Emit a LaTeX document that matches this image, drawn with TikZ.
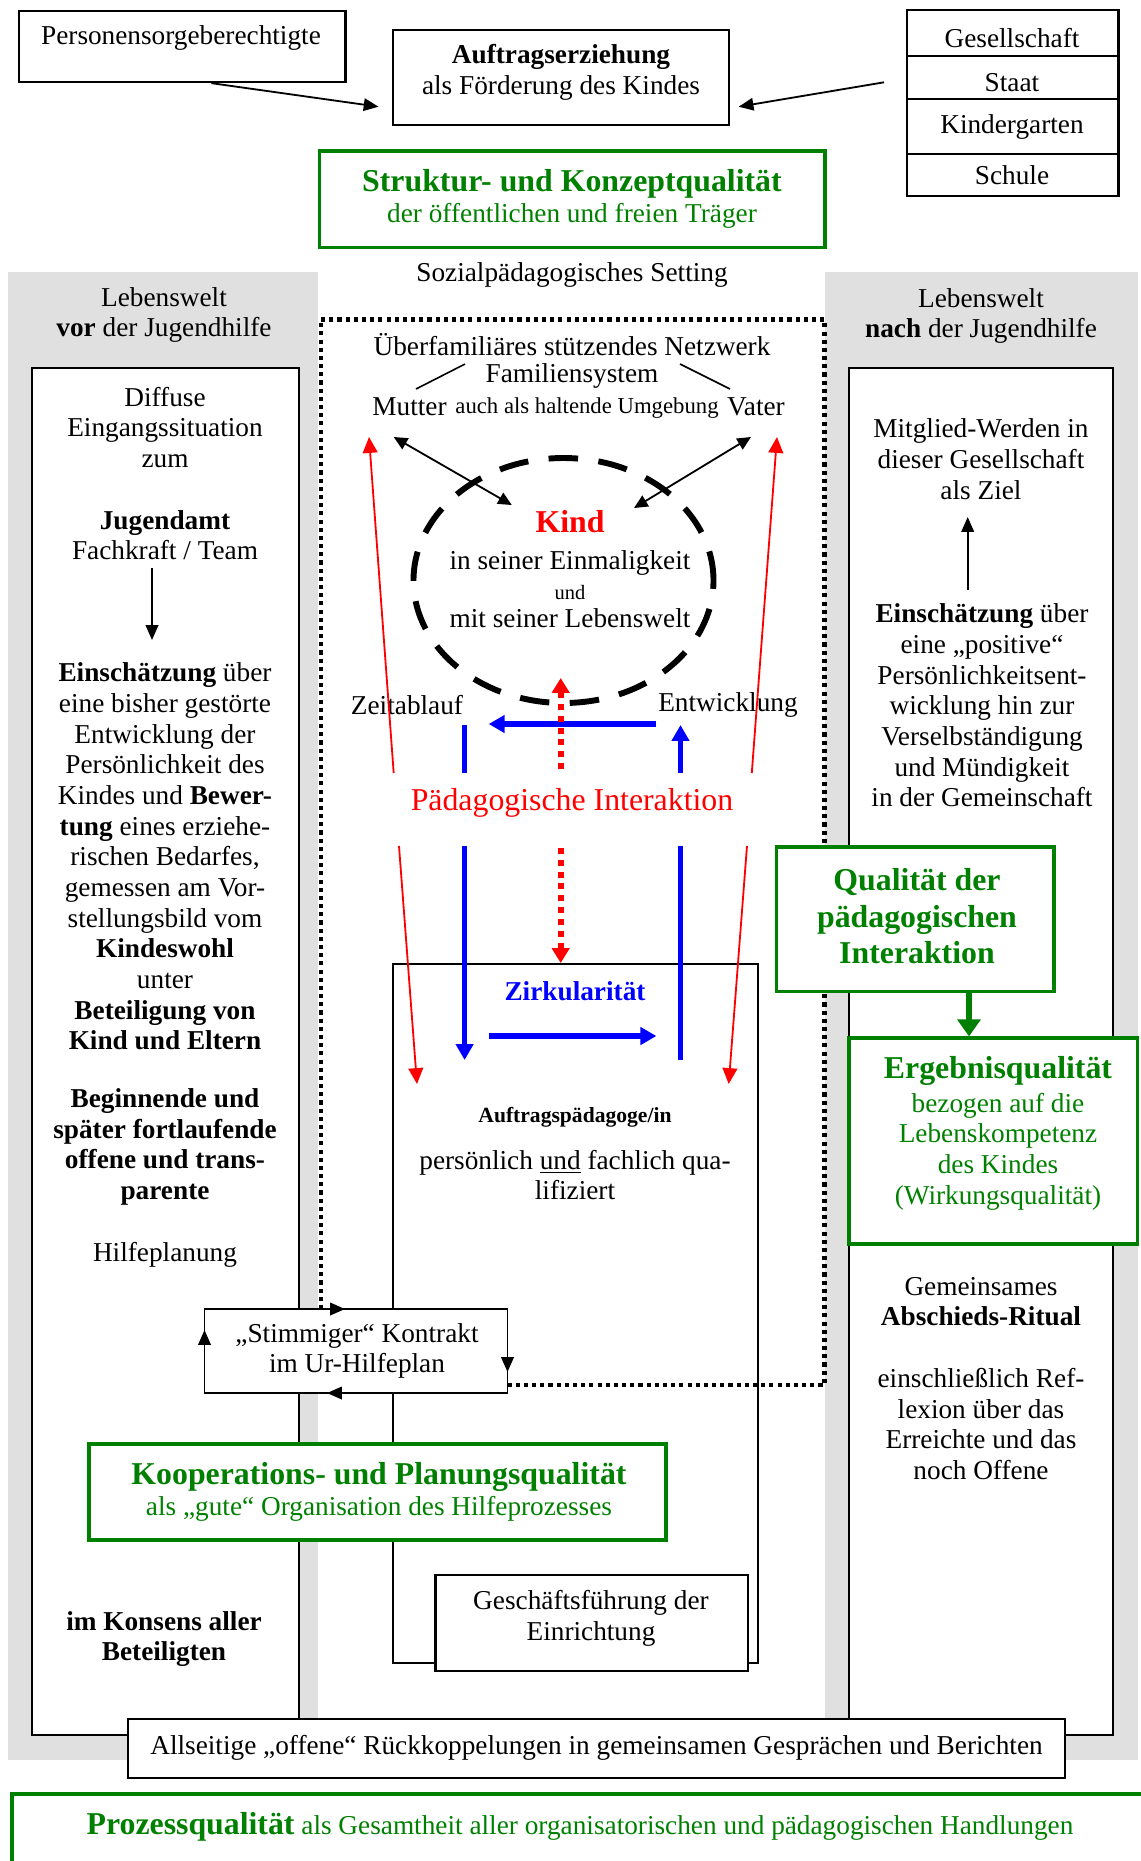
\documentclass[tikz,border=0pt]{standalone}
\usepackage{fontspec}
\setmainfont{Liberation Serif}
\usepackage{xcolor}
\usetikzlibrary{arrows.meta}
\usetikzlibrary{shapes.geometric}
\usetikzlibrary{fit}
\definecolor{gruen}{RGB}{0,128,0}
\definecolor{hellgrau}{RGB}{224,224,224}

\begin{document}
\begin{tikzpicture}[x=0.44pt,y=-0.44pt,
	every node/.style={font=\fontsize{12}{13.5}\selectfont,align=center,inner sep=0pt},
	fett/.style={font=\fontsize{12}{13.5}\selectfont\bfseries},
	gross/.style={font=\fontsize{14}{16.1}\selectfont\bfseries},
	klein/.style={font=\fontsize{10}{11.5}\selectfont},
	kasten/.style={draw,line width=1pt,fill=white,inner sep=0pt},
	duenn/.style={draw,line width=0.7pt,fill=white,inner sep=0pt},
	gruenkasten/.style={draw=gruen,line width=1.4pt,fill=white,inner sep=0pt},
	spitze/.style={-{Triangle[length=6.5pt,width=5.5pt]},line width=0.8pt},
	doppelspitze/.style={{Triangle[length=6pt,width=5.5pt]}-{Triangle[length=6pt,width=5.5pt]},line width=0.8pt},
	rotspitze/.style={-{Triangle[length=7pt,width=6.5pt]},red,line width=0.8pt},
	blaustrich/.style={blue,line width=2.3pt},
	blauspitze/.style={blaustrich,-{Triangle[length=7pt,width=7.5pt]}},
	rotpunkte/.style={red,line width=2.6pt,dash pattern=on 2.6pt off 2.6pt,-{Triangle[length=6.5pt,width=7.5pt]}},
	rahmen/.style={line width=1.8pt,dash pattern=on 1.8pt off 1.8pt},
	kreis/.style={draw,ellipse,line width=2.6pt,dash pattern=on 13pt off 9pt,inner sep=0pt},
	gruenspitze/.style={gruen,line width=3pt,-{Triangle[length=7.5pt,width=10pt]}}]

	\path[use as bounding box] (0,0) rectangle (1141,1861);
	\clip (0,0) rectangle (1141,1861);

	% Lebenswelten
	\fill[hellgrau] (8,272) rectangle (318,1760);
	\fill[hellgrau] (825,272) rectangle (1137.5,1760);

	% oben
	\node[kasten,fit={(19,11)(345.5,82)}] (personen) {};
	\node (personentext) at (181,38) {Personensorgeberechtigte};
	\node[kasten,fit={(393,30)(729,125)}] (auftrag) {};
	\node (auftragtext) at (561,72) {\textbf{Auftragserziehung}\\als Förderung des Kindes};
	\node[kasten,line width=1.2pt,fit={(907,10)(1118.5,56)}] (gesellschaft) {};
	\node[kasten,line width=1.2pt,fit={(907,56)(1118.5,99)}] (staat) {};
	\node[kasten,line width=1.2pt,fit={(907,99)(1118.5,154)}] (kindergarten) {};
	\node[kasten,line width=1.2pt,fit={(907,154)(1118.5,196)}] (schule) {};
	\node (gesellschafttext) at (1012,38) {Gesellschaft};
	\node (staattext) at (1012,83) {Staat};
	\node (kindergartentext) at (1012,127) {Kindergarten};
	\node (schuletext) at (1012,175) {Schule};
	\coordinate (auftraglinks) at (378.5,106.7);
	\coordinate (auftragrechts) at (738.7,106.7);
	\coordinate (stapelpfeil) at (884,82.3);
	\draw[spitze] ([xshift=12.8pt]personen.south) -- (auftraglinks);
	\draw[spitze] (stapelpfeil) -- (auftragrechts);

	\node[gruenkasten,line width=1.5pt,fit={(319.5,151)(825,247.5)}] (struktur) {};
	\node[text=gruen] (strukturtext) at (572,199) {\fontsize{14}{16}\selectfont\bfseries Struktur- und Konzeptqualität\\\fontsize{12}{14.5}\selectfont\mdseries der öffentlichen und freien Träger};
	\node (setting) at (572,275) {Sozialpädagogisches Setting};

	\node (vorher) at (164,315) {Lebenswelt\\\textbf{vor} der Jugendhilfe};
	\node (nachher) at (981,316) {Lebenswelt\\\textbf{nach} der Jugendhilfe};

	% linke Spalte
	\node[kasten,fit={(32,368)(299,1735)}] (links) {};
	\node (diffus) at (165,427.5) {Diffuse\\Eingangssituation\\zum};
	\node (jugendamt) at (165,535) {\textbf{Jugendamt}\\Fachkraft / Team};
	\node (einschaetzung) at (165,856.5) {\textbf{Einschätzung} über\\eine bisher gestörte\\Entwicklung der\\Persönlichkeit des\\Kindes und \textbf{Bewer-}\\\textbf{tung} eines erziehe-\\rischen Bedarfes,\\gemessen am Vor-\\stellungsbild vom\\\textbf{Kindeswohl}\\unter\\\textbf{Beteiligung von}\\\textbf{Kind und Eltern}};
	\node[fett] (beginnende) at (165,1147) {Beginnende und\\später fortlaufende\\offene und trans-\\parente};
	\node (hilfeplanung) at (165,1255) {Hilfeplanung};
	\node[fett] (konsens) at (164,1639) {im Konsens aller\\Beteiligten};
	\coordinate (jugendamtpfeil) at (152,568);
	\coordinate (einschaetzungpfeil) at (152,640);
	\draw[spitze] (jugendamtpfeil) -- (einschaetzungpfeil);

	% rechte Spalte
	\node[kasten,fit={(849,368)(1113,1735)}] (rechts) {};
	\node (mitglied) at (981,459) {Mitglied-Werden in\\dieser Gesellschaft\\als Ziel};
	\node (positiv) at (982,705.5) {\textbf{Einschätzung} über\\eine „positive“\\Persönlichkeitsent-\\wicklung hin zur\\Verselbständigung\\und Mündigkeit\\in der Gemeinschaft};
	\node (abschied) at (981,1301.5) {Gemeinsames\\\textbf{Abschieds-Ritual}};
	\node (reflexion) at (981,1424) {einschließlich Ref-\\lexion über das\\Erreichte und das\\noch Offene};
	\coordinate (positivpfeil) at (967.7,590);
	\coordinate (mitgliedpfeil) at (967.7,517);
	\draw[spitze] (positivpfeil) -- (mitgliedpfeil);

	% Setting
	\node[duenn,fit={(393,964)(758,1663)}] (paedagoge) {};
	\draw[rahmen] (507.5,1385) -- (824.5,1385) -- (824.5,319.5) -- (320.7,319.5) -- (320.7,1309);

	\node (netzwerk) at (572,345) {Überfamiliäres stützendes Netzwerk};
	\node (familie) at (572,376) {Familiensystem};
	\node (mutter) at (409.5,407) {Mutter};
	\node[klein] (umgebung) at (587,408) {auch als haltende Umgebung};
	\node (vater) at (756,407) {Vater};
	\draw[line width=0.7pt] (416,389) -- (465,364);
	\draw[line width=0.7pt] (680,364) -- (730,389);

	\node[kreis,minimum width=132pt,minimum height=107.8pt] (kindkreis) at (563.5,580.5) {};
	\node[gross,text=red] (kind) at (570,522) {Kind};
	\node (einmalig) at (570,563) {in seiner Einmaligkeit};
	\node[font=\fontsize{9}{10}\selectfont] (und) at (570,592) {und};
	\node (lebenswelt) at (570,618) {mit seiner Lebenswelt};
	\coordinate (mutterpfeil) at (393.7,437);
	\coordinate (kindlinks) at (511.8,505);
	\coordinate (vaterpfeil) at (751,437);
	\coordinate (kindrechts) at (634,508);
	\draw[doppelspitze] (mutterpfeil) -- (kindlinks);
	\draw[doppelspitze] (vaterpfeil) -- (kindrechts);

	\node (zeit) at (407,705) {Zeitablauf};
	\node (entwicklung) at (728,705) {Entwicklung};
	\node[font=\fontsize{14}{16}\selectfont,text=red] (interaktion) at (572,803) {Pädagogische Interaktion};

	\coordinate (rotlo) at (393.7,773);
	\coordinate (rotlu) at (399,846);
	\coordinate (rotro) at (751.8,773);
	\coordinate (rotru) at (747,846);
	\draw[rotspitze] (rotlo) -- (369,437);
	\draw[rotspitze] (rotlu) -- (417,1084);
	\draw[rotspitze] (rotro) -- (777,437);
	\draw[rotspitze] (rotru) -- (728.7,1084);

	\draw[blaustrich] (464.6,725) -- (464.6,773);
	\draw[blauspitze] (464.6,846) -- (464.6,1060);
	\draw[blauspitze] (488.7,1036) -- (656.4,1036);
	\draw[blaustrich] (680.5,1060) -- (680.5,846);
	\draw[blauspitze] (680.5,773) -- (680.5,725);
	\draw[blauspitze] (656.4,724) -- (488.7,724);

	\draw[rotpunkte] (560.7,769) -- (560.7,678);
	\draw[rotpunkte] (560.7,848) -- (560.7,963);

	\node[fett,text=blue] (zirkular) at (575,991) {Zirkularität};
	\node[font=\fontsize{9.5}{11}\selectfont\bfseries] (auftragspaed) at (575,1117) {Auftragspädagoge/in};
	\node (qualifiziert) at (575,1175) {persönlich \underline{und} fachlich qua-\\lifiziert};

	% Qualitaeten rechts
	\node[gruenkasten,fit={(776.7,847)(1054,991.7)}] (qualitaet) {};
	\node[gross,text=gruen] (qualitaettext) at (917,916.5) {Qualität der\\pädagogischen\\Interaktion};
	\node[gruenkasten,fit={(849,1038)(1137.7,1244)}] (ergebnis) {};
	\node[text=gruen] (ergebnistext) at (998,1133) {\fontsize{14}{16}\selectfont\bfseries Ergebnisqualität\\[1.5pt]\fontsize{12}{13.5}\selectfont\mdseries bezogen auf die\\Lebenskompetenz\\des Kindes\\(Wirkungsqualität)};
	\coordinate (gruenachse) at (969,0);
	\draw[gruenspitze] (gruenachse |- qualitaet.south) -- (gruenachse |- ergebnis.north);

	% Kontrakt
	\node[duenn,fit={(204.5,1309)(507.5,1393)}] (stimmiger) {};
	\node (kontrakt) at (357,1351) {„Stimmiger“ Kontrakt\\im Ur-Hilfeplan};
	\coordinate (kontraktoben) at (345,1309);
	\coordinate (kontraktrechts) at (507.5,1330);
	\coordinate (kontraktunten) at (366.5,1393);
	\coordinate (kontraktlinks) at (204.5,1350);
	\draw[spitze] (320.7,1309) -- (kontraktoben);
	\draw[spitze] (kontraktrechts) -- (507.5,1372);
	\draw[spitze] (kontraktunten) -- (327,1393);
	\draw[spitze] (kontraktlinks) -- (204.5,1330);

	\node[gruenkasten,line width=1.5pt,fit={(89,1444)(666,1540)}] (kooperation) {};
	\node[text=gruen] (kooperationtext) at (379,1492) {\fontsize{14}{16}\selectfont\bfseries Kooperations- und Planungsqualität\\\fontsize{12}{15.4}\selectfont\mdseries als „gute“ Organisation des Hilfeprozesses};

	\node[kasten,fit={(435.5,1575)(748,1671)}] (geschaeft) {};
	\node (geschaefttext) at (591,1618) {Geschäftsführung der\\Einrichtung};

	% unten
	\node[kasten,fit={(128,1719)(1065,1778)}] (rueckkopplung) {};
	\node (rueckkopplungtext) at (596.5,1748) {Allseitige „offene“ Rückkoppelungen in gemeinsamen Gesprächen und Berichten};
	\node[gruenkasten,line width=1.5pt,fit={(12,1794)(1160,1890)}] (prozess) {};
	\node[text=gruen] (prozesstext) at (580,1827) {{\fontsize{14}{16}\selectfont\bfseries Prozessqualität} als Gesamtheit aller organisatorischen und pädagogischen Handlungen};

\end{tikzpicture}
\end{document}
